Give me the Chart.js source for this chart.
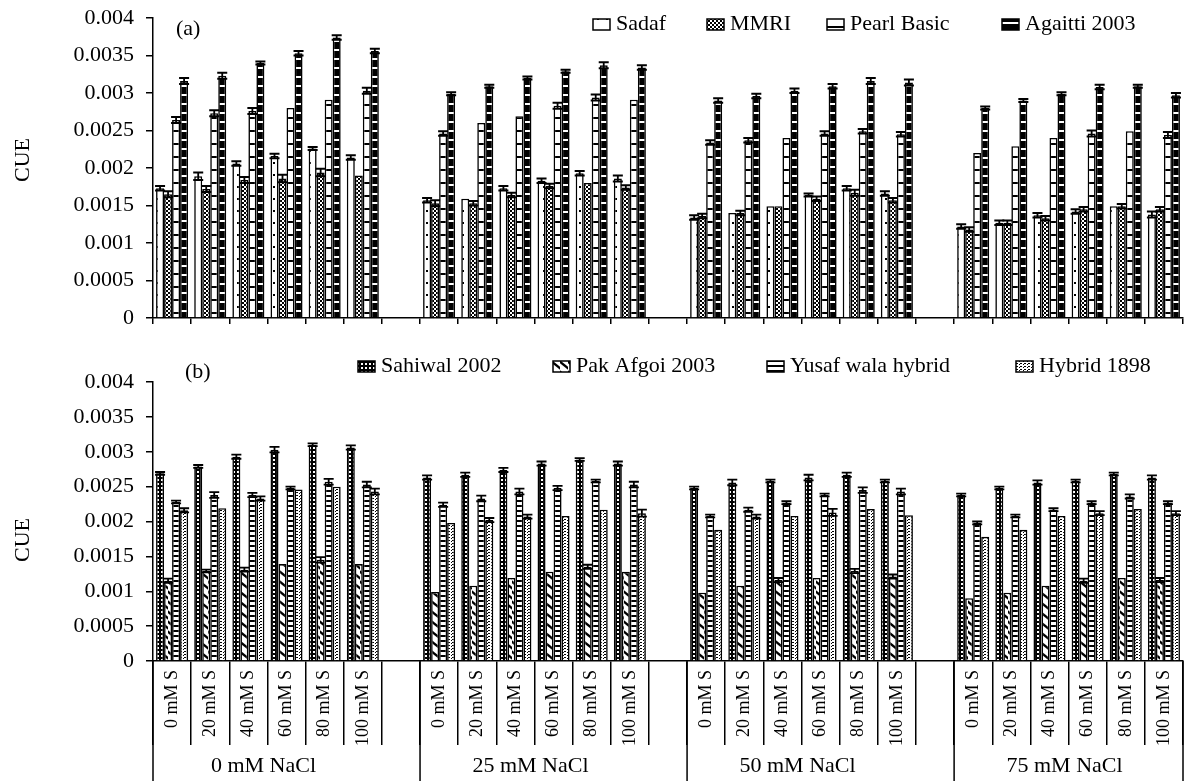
<!DOCTYPE html>
<html>
<head>
<meta charset="utf-8">
<script src="https://cdn.jsdelivr.net/npm/chart.js@4.4.0/dist/chart.umd.min.js"></script>
<style>
  html, body { margin: 0; padding: 0; background: #fff; }
  #wrap { position: relative; width: 1189px; height: 781px; }
  canvas { position: absolute; left: 0; }
  #panelA { top: 0; }
  #panelB { top: 330px; }
</style>
</head>
<body>
<div id="wrap">
  <canvas id="panelA" width="1189" height="332"></canvas>
  <canvas id="panelB" width="1189" height="451"></canvas>
</div>
<script>
// treatments
var sLevels = ['0 mM S', '20 mM S', '40 mM S', '60 mM S', '80 mM S', '100 mM S'];
var naclLevels = ['0 mM NaCl', '25 mM NaCl', '50 mM NaCl', '75 mM NaCl'];
var cueTicks = ['0', '0.0005', '0.001', '0.0015', '0.002', '0.0025', '0.003', '0.0035', '0.004'];

// (a) cultivars, 6 S levels per NaCl level
var sadaf   = [0.00173, 0.00189, 0.00206, 0.00216, 0.00226, 0.00214,  0.00157, 0.00159, 0.00173, 0.00183, 0.00193, 0.00186,  0.00134, 0.00140, 0.00149, 0.00164, 0.00173, 0.00166,  0.00122, 0.00127, 0.00137, 0.00142, 0.00149, 0.00138];
var mmri    = [0.00165, 0.00172, 0.00184, 0.00186, 0.00194, 0.00190,  0.00153, 0.00153, 0.00164, 0.00176, 0.00180, 0.00174,  0.00136, 0.00140, 0.00149, 0.00159, 0.00167, 0.00157,  0.00118, 0.00127, 0.00133, 0.00145, 0.00149, 0.00145];
var pearl   = [0.00264, 0.00273, 0.00276, 0.00280, 0.00291, 0.00303,  0.00246, 0.00260, 0.00269, 0.00283, 0.00294, 0.00291,  0.00234, 0.00237, 0.00240, 0.00246, 0.00249, 0.00245,  0.00220, 0.00229, 0.00240, 0.00246, 0.00249, 0.00244];
var agaitti = [0.00316, 0.00323, 0.00340, 0.00353, 0.00374, 0.00356,  0.00299, 0.00309, 0.00320, 0.00329, 0.00337, 0.00334,  0.00290, 0.00296, 0.00303, 0.00309, 0.00316, 0.00314,  0.00280, 0.00290, 0.00299, 0.00308, 0.00309, 0.00297];

var sadafErr   = [3e-5, 5e-5, 3e-5, 3e-5, 2e-5, 3e-5,  3e-5, 0, 3e-5, 3e-5, 3e-5, 4e-5,  3e-5, 0, 0, 2e-5, 3e-5, 3e-5,  3e-5, 3e-5, 3e-5, 3e-5, 0, 4e-5];
var mmriErr    = [4e-5, 4e-5, 4e-5, 5e-5, 5e-5, 0,  4e-5, 3e-5, 3e-5, 3e-5, 0, 3e-5,  3e-5, 3e-5, 0, 3e-5, 4e-5, 3e-5,  3e-5, 3e-5, 3e-5, 3e-5, 3e-5, 3e-5];
var pearlErr   = [4e-5, 4e-5, 4e-5, 0, 0, 4e-5,  3e-5, 0, 0, 4e-5, 4e-5, 0,  3e-5, 3e-5, 0, 3e-5, 3e-5, 3e-5,  0, 0, 0, 4e-5, 0, 4e-5];
var agaittiErr = [4e-5, 4e-5, 2e-5, 3e-5, 3e-5, 3e-5,  2e-5, 2e-5, 2e-5, 2e-5, 4e-5, 3e-5,  3e-5, 3e-5, 3e-5, 3e-5, 4e-5, 4e-5,  2e-5, 2e-5, 2e-5, 3e-5, 2e-5, 3e-5];

// (b) cultivars
var sahiwal  = [0.00269, 0.00279, 0.00293, 0.00303, 0.00310, 0.00306,  0.00263, 0.00267, 0.00274, 0.00283, 0.00289, 0.00283,  0.00248, 0.00256, 0.00258, 0.00263, 0.00267, 0.00258,  0.00238, 0.00248, 0.00256, 0.00258, 0.00268, 0.00263];
var pakAfgoi = [0.00115, 0.00129, 0.00131, 0.00139, 0.00145, 0.00139,  0.00099, 0.00108, 0.00119, 0.00128, 0.00135, 0.00128,  0.00098, 0.00108, 0.00116, 0.00119, 0.00129, 0.00121,  0.00090, 0.00098, 0.00108, 0.00115, 0.00119, 0.00116];
var yusaf    = [0.00228, 0.00238, 0.00238, 0.00248, 0.00257, 0.00253,  0.00224, 0.00233, 0.00243, 0.00248, 0.00258, 0.00253,  0.00208, 0.00217, 0.00227, 0.00238, 0.00245, 0.00243,  0.00198, 0.00208, 0.00217, 0.00227, 0.00236, 0.00227];
var hybrid   = [0.00216, 0.00219, 0.00233, 0.00246, 0.00250, 0.00243,  0.00198, 0.00202, 0.00207, 0.00208, 0.00217, 0.00212,  0.00188, 0.00207, 0.00208, 0.00213, 0.00218, 0.00209,  0.00178, 0.00188, 0.00208, 0.00212, 0.00218, 0.00212];

var sahiwalErr = [2e-5, 2e-5, 3e-5, 4e-5, 2e-5, 3e-5,  3e-5, 3e-5, 3e-5, 3e-5, 2e-5, 3e-5,  2e-5, 4e-5, 2e-5, 4e-5, 3e-5, 2e-5,  2e-5, 2e-5, 3e-5, 2e-5, 2e-5, 3e-5];
var pakErr     = [3e-5, 2e-5, 3e-5, 0, 4e-5, 0,  0, 0, 0, 0, 3e-5, 0,  0, 0, 3e-5, 0, 3e-5, 3e-5,  0, 0, 0, 3e-5, 0, 3e-5];
var yusafErr   = [2e-5, 4e-5, 3e-5, 2e-5, 4e-5, 4e-5,  3e-5, 4e-5, 4e-5, 3e-5, 2e-5, 4e-5,  2e-5, 3e-5, 2e-5, 2e-5, 4e-5, 4e-5,  2e-5, 2e-5, 2e-5, 2e-5, 3e-5, 2e-5];
var hybridErr  = [3e-5, 0, 3e-5, 0, 0, 4e-5,  0, 3e-5, 3e-5, 0, 0, 5e-5,  0, 3e-5, 0, 5e-5, 0, 0,  0, 0, 0, 3e-5, 0, 3e-5];

// one empty slot between NaCl groups
var labels = [];
naclLevels.forEach(function (n, g) {
  labels = labels.concat(sLevels);
  if (g < naclLevels.length - 1) labels.push('');
});
function spread(values) {
  var out = [];
  naclLevels.forEach(function (n, g) {
    out = out.concat(values.slice(g * 6, g * 6 + 6));
    if (g < naclLevels.length - 1) out.push(null);
  });
  return out;
}

// black and white hatch fills
function hatch(w, h, draw) {
  var c = document.createElement('canvas');
  c.width = w; c.height = h;
  var g = c.getContext('2d');
  g.fillStyle = '#fff'; g.fillRect(0, 0, w, h);
  g.fillStyle = '#000'; g.strokeStyle = '#000';
  draw(g);
  return g.createPattern(c, 'repeat');
}
var fills = {
  dots: hatch(9, 12, function (g) { g.fillRect(3, 6, 2, 2); }),
  fineCheck: hatch(4, 4, function (g) { g.fillRect(0, 0, 2, 2); g.fillRect(2, 2, 2, 2); }),
  ladder: hatch(1, 13, function (g) { g.fillRect(0, 0, 1, 2); }),
  darkDash: hatch(1, 9, function (g) { g.fillRect(0, 0, 1, 4); g.fillRect(0, 6, 1, 3); }),
  squares: hatch(4, 4, function (g) { g.fillRect(0, 0, 4, 4); g.fillStyle = '#fff'; g.fillRect(1, 1, 2, 2); }),
  diagonal: hatch(8, 10, function (g) { g.lineWidth = 2.4; g.beginPath(); g.moveTo(-1, 1); g.lineTo(9, 9); g.stroke(); }),
  darkLadder: hatch(1, 5, function (g) { g.fillRect(0, 0, 1, 2); }),
  lightDots: hatch(4, 3, function (g) { g.fillRect(0, 0, 2, 1); g.fillRect(3, 1, 1, 1); })
};

Chart.defaults.font.family = "'Liberation Serif', 'Times New Roman', serif";
Chart.defaults.font.size = 22;
Chart.defaults.color = '#000';

// error bars, panel tag, CUE label and legend drawn on the chart canvas
var panelDecor = {
  id: 'panelDecor',
  afterDatasetsDraw: function (chart) {
    var ctx = chart.ctx, y = chart.scales.y;
    ctx.save();
    ctx.strokeStyle = '#000';
    ctx.lineWidth = 1.8;
    chart.data.datasets.forEach(function (ds, i) {
      chart.getDatasetMeta(i).data.forEach(function (bar, j) {
        var v = ds.data[j], e = ds.errors[j];
        if (v == null || !e) return;
        var top = y.getPixelForValue(v + e), bot = y.getPixelForValue(v - e);
        var half = bar.width / 2 + 1;
        ctx.beginPath();
        ctx.moveTo(bar.x, top); ctx.lineTo(bar.x, bot);
        ctx.moveTo(bar.x - half, top); ctx.lineTo(bar.x + half, top);
        ctx.moveTo(bar.x - half, bot); ctx.lineTo(bar.x + half, bot);
        ctx.stroke();
      });
    });
    ctx.restore();
  },
  afterDraw: function (chart, args, opts) {
    var ctx = chart.ctx;
    ctx.save();
    ctx.font = "22px 'Liberation Serif'";
    ctx.fillStyle = '#000';
    ctx.textBaseline = 'middle';
    ctx.textAlign = 'left';
    ctx.fillText(opts.tag, opts.tagAt[0], opts.tagAt[1]);

    ctx.save();
    ctx.translate(23, opts.cueY);
    ctx.rotate(-Math.PI / 2);
    ctx.textAlign = 'center';
    ctx.fillText('CUE', 0, 0);
    ctx.restore();

    ctx.strokeStyle = '#000';
    ctx.lineWidth = 1.5;
    chart.data.datasets.forEach(function (ds, i) {
      var p = opts.legendAt[i];
      ctx.fillStyle = ds.backgroundColor;
      ctx.fillRect(p[0], p[1], 17, 11);
      ctx.strokeRect(p[0], p[1], 17, 11);
      ctx.fillStyle = '#000';
      ctx.fillText(ds.label, p[0] + 23, p[1] + 5);
    });
    ctx.restore();
  }
};

// S level labels between the separators, NaCl groups underneath
var treatmentAxis = {
  id: 'treatmentAxis',
  afterDraw: function (chart) {
    var ctx = chart.ctx, x = chart.scales.x, area = chart.chartArea;
    var slot = x.getPixelForValue(1) - x.getPixelForValue(0);
    ctx.save();
    ctx.fillStyle = '#000';
    ctx.strokeStyle = '#000';
    ctx.lineWidth = 1.5;
    ctx.font = "18px 'Liberation Serif'";
    chart.data.labels.forEach(function (lab, i) {
      if (!lab) return;
      ctx.save();
      ctx.translate(x.getPixelForValue(i), area.bottom + 9);
      ctx.rotate(-Math.PI / 2);
      ctx.textAlign = 'right';
      ctx.textBaseline = 'middle';
      ctx.fillText(lab, 0, 0);
      ctx.restore();
    });
    ctx.font = "22px 'Liberation Serif'";
    ctx.textAlign = 'center';
    ctx.textBaseline = 'middle';
    naclLevels.forEach(function (name, g) {
      var first = g * 7, last = first + 5;
      var left = x.getPixelForValue(first) - slot / 2;
      ctx.beginPath();
      ctx.moveTo(left, area.bottom);
      ctx.lineTo(left, chart.height);
      ctx.stroke();
      ctx.fillText(name, (x.getPixelForValue(first) + x.getPixelForValue(last)) / 2 - 4, area.bottom + 105);
    });
    ctx.beginPath();
    ctx.moveTo(area.right, area.bottom);
    ctx.lineTo(area.right, chart.height);
    ctx.stroke();
    ctx.restore();
  }
};

function panel(id, cfg) {
  return new Chart(document.getElementById(id), {
    type: 'bar',
    data: {
      labels: labels,
      datasets: cfg.series.map(function (s) {
        return {
          label: s.label,
          data: spread(s.data),
          errors: spread(s.err),
          backgroundColor: s.fill,
          borderColor: '#000',
          borderWidth: 1.6,
          categoryPercentage: 0.84,
          barPercentage: 1.0
        };
      })
    },
    options: {
      responsive: false,
      animation: false,
      layout: { padding: { top: cfg.top, right: 6, left: 0, bottom: 0 } },
      plugins: {
        legend: { display: false },
        tooltip: { enabled: false },
        panelDecor: { tag: cfg.tag, tagAt: cfg.tagAt, cueY: cfg.cueY, legendAt: cfg.legendAt }
      },
      scales: {
        x: {
          ticks: { display: false },
          grid: { offset: true, drawOnChartArea: false, color: '#000', lineWidth: 1.5, tickLength: cfg.sepLength },
          border: { color: '#000', width: 1.5 },
          afterFit: function (s) { s.height = cfg.axisHeight; }
        },
        y: {
          min: 0,
          max: 0.004,
          ticks: {
            stepSize: 0.0005,
            padding: 12,
            callback: function (v) { return cueTicks[Math.round(v / 0.0005)]; }
          },
          grid: { drawOnChartArea: false, color: '#000', lineWidth: 1.5, tickLength: 7 },
          border: { color: '#000', width: 1.5 },
          afterFit: function (s) {
            s.width = 153;
            // the layout padding already leaves room for the end labels
            s.paddingTop = 0;
            s.paddingBottom = 0;
          }
        }
      }
    },
    plugins: cfg.extra ? [panelDecor, cfg.extra] : [panelDecor]
  });
}

panel('panelA', {
  top: 18, axisHeight: 14, sepLength: 6,
  tag: '(a)', tagAt: [176, 29], cueY: 160,
  legendAt: [[593, 19], [707, 19], [827, 19], [1002, 19]],
  series: [
    { label: 'Sadaf', data: sadaf, err: sadafErr, fill: fills.dots },
    { label: 'MMRI', data: mmri, err: mmriErr, fill: fills.fineCheck },
    { label: 'Pearl Basic', data: pearl, err: pearlErr, fill: fills.ladder },
    { label: 'Agaitti 2003', data: agaitti, err: agaittiErr, fill: fills.darkDash }
  ]
});

panel('panelB', {
  top: 52, axisHeight: 120, sepLength: 84,
  tag: '(b)', tagAt: [185, 42], cueY: 210,
  legendAt: [[358, 31], [553, 31], [767, 31], [1016, 31]],
  extra: treatmentAxis,
  series: [
    { label: 'Sahiwal 2002', data: sahiwal, err: sahiwalErr, fill: fills.squares },
    { label: 'Pak Afgoi 2003', data: pakAfgoi, err: pakErr, fill: fills.diagonal },
    { label: 'Yusaf wala hybrid', data: yusaf, err: yusafErr, fill: fills.darkLadder },
    { label: 'Hybrid 1898', data: hybrid, err: hybridErr, fill: fills.lightDots }
  ]
});
</script>
</body>
</html>
